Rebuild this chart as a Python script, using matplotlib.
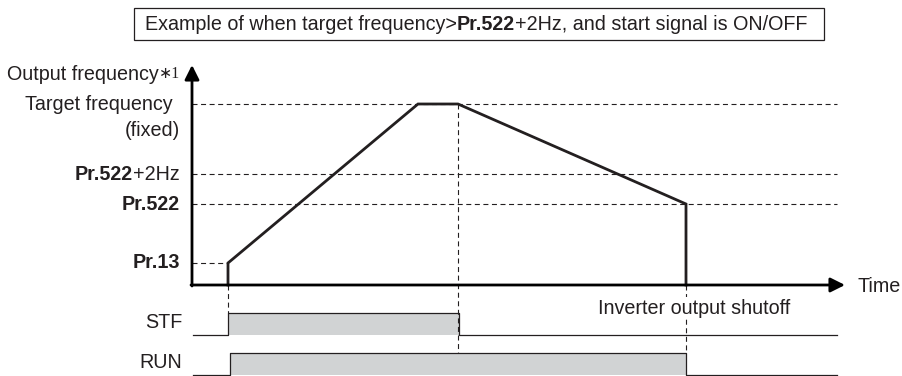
import matplotlib
matplotlib.use("Agg")
import matplotlib.pyplot as plt
from matplotlib.patches import Rectangle

plt.rcParams["font.family"] = ["Liberation Sans", "DejaVu Sans"]

INK = "#231f20"
FILL = "#d1d3d4"
FS = 14.2

# output frequency profile (time, frequency)
t_freq = [36, 36, 226, 266, 494, 494]
f_freq = [0, 22, 181, 181, 81, 0]

# reference levels on the frequency axis
levels = {"target": 181, "pr522_2hz": 111, "pr522": 81, "pr13": 22}
t_end = 645
t_axis_end = 653
f_axis_end = 220

# start signal (STF) and running signal (RUN): time of edges
stf_t = [1, 36, 36, 267, 267, 645]
stf_on = [0, 0, 1, 1, 0, 0]
run_t = [1, 38, 38, 494, 494, 645]
run_on = [0, 0, 1, 1, 0, 0]
stf_low, stf_high = -50, -28
run_low, run_high = -90, -68

fig = plt.figure(figsize=(9.02, 3.76), dpi=100)
ax = fig.add_axes([0, 0, 1, 1])
ax.set_xlim(-192, 710)
ax.set_ylim(-91, 285)
ax.axis("off")

dash = dict(color=INK, lw=0.8, ls=(0, (4.5, 3.2)))

# horizontal guide lines
ax.plot([0, t_freq[0]], [levels["pr13"]] * 2, **dash)
for key in ["target", "pr522_2hz", "pr522"]:
    ax.plot([0, t_end], [levels[key]] * 2, **dash)

# vertical guide lines
ax.plot([t_freq[0]] * 2, [0, stf_high], **dash)
ax.plot([t_freq[3]] * 2, [levels["target"], run_high], **dash)
ax.plot([t_freq[4]] * 2, [0, run_high], **dash)

# axes with arrows
arrow = dict(arrowstyle="-|>,head_length=0.62,head_width=0.31", lw=2.0,
             color="black", mutation_scale=14, shrinkA=0, shrinkB=0)
ax.annotate("", xy=(0, f_axis_end), xytext=(0, -1), arrowprops=arrow)
ax.annotate("", xy=(t_axis_end, 0), xytext=(-1, 0), arrowprops=arrow)

# frequency curve
ax.plot(t_freq, f_freq, color=INK, lw=2.0, solid_joinstyle="miter")


def signal(t, on, low, high):
    y = [high if s else low for s in on]
    ax.fill_between(t, low, y, color=FILL, lw=0)
    ax.plot(t, y, color=INK, lw=0.9)


signal(stf_t, stf_on, stf_low, stf_high)
signal(run_t, run_on, run_low, run_high)

txt = dict(color=INK, fontsize=FS, va="center")


def rich(x, y, parts, ha="right"):
    """Draw (text, props) pieces side by side, anchored left or right."""
    seq = parts[::-1] if ha == "right" else parts
    prev = None
    for s, extra in seq:
        kw = dict(txt)
        kw.update(extra)
        if prev is None:
            prev = ax.text(x, y, s, ha=ha, **kw)
        else:
            side = 0 if ha == "right" else 1
            prev = ax.annotate(s, xy=(side, 0.5), xycoords=prev, ha=ha, **kw)
    return prev


BOLD = {"weight": "bold"}
STAR = {"family": ["Liberation Serif", "DejaVu Sans"], "fontsize": FS * 0.8}

# y-axis labels
rich(-12, 211, [("Output frequency", {}), ("\u22171", STAR)])
ax.text(-19, levels["target"], "Target frequency", ha="right", **txt)
ax.text(-12, 155, "(fixed)", ha="right", **txt)
rich(-12, levels["pr522_2hz"], [("Pr.522", BOLD), ("+2Hz", {})])
ax.text(-12, levels["pr522"], "Pr.522", ha="right", weight="bold", **txt)
ax.text(-12, levels["pr13"], "Pr.13", ha="right", weight="bold", **txt)

ax.text(666, -2, "Time", ha="left", **txt)
ax.text(502, -23, "Inverter output shutoff", ha="center",
        bbox=dict(fc="white", ec="none", pad=1), **txt)
ax.text(-10, (stf_low + stf_high) / 2 + 2, "STF", ha="right", **txt)
ax.text(-10, (run_low + run_high) / 2 + 2, "RUN", ha="right", **txt)

# heading box
ax.add_patch(Rectangle((-58, 245), 690, 32, fc="white", ec=INK, lw=0.9))
rich(-47, 261, [("Example of when target frequency>", {}), ("Pr.522", BOLD),
                ("+2Hz, and start signal is ON/OFF", {})], ha="left")

fig.savefig("out.png", dpi=100)
